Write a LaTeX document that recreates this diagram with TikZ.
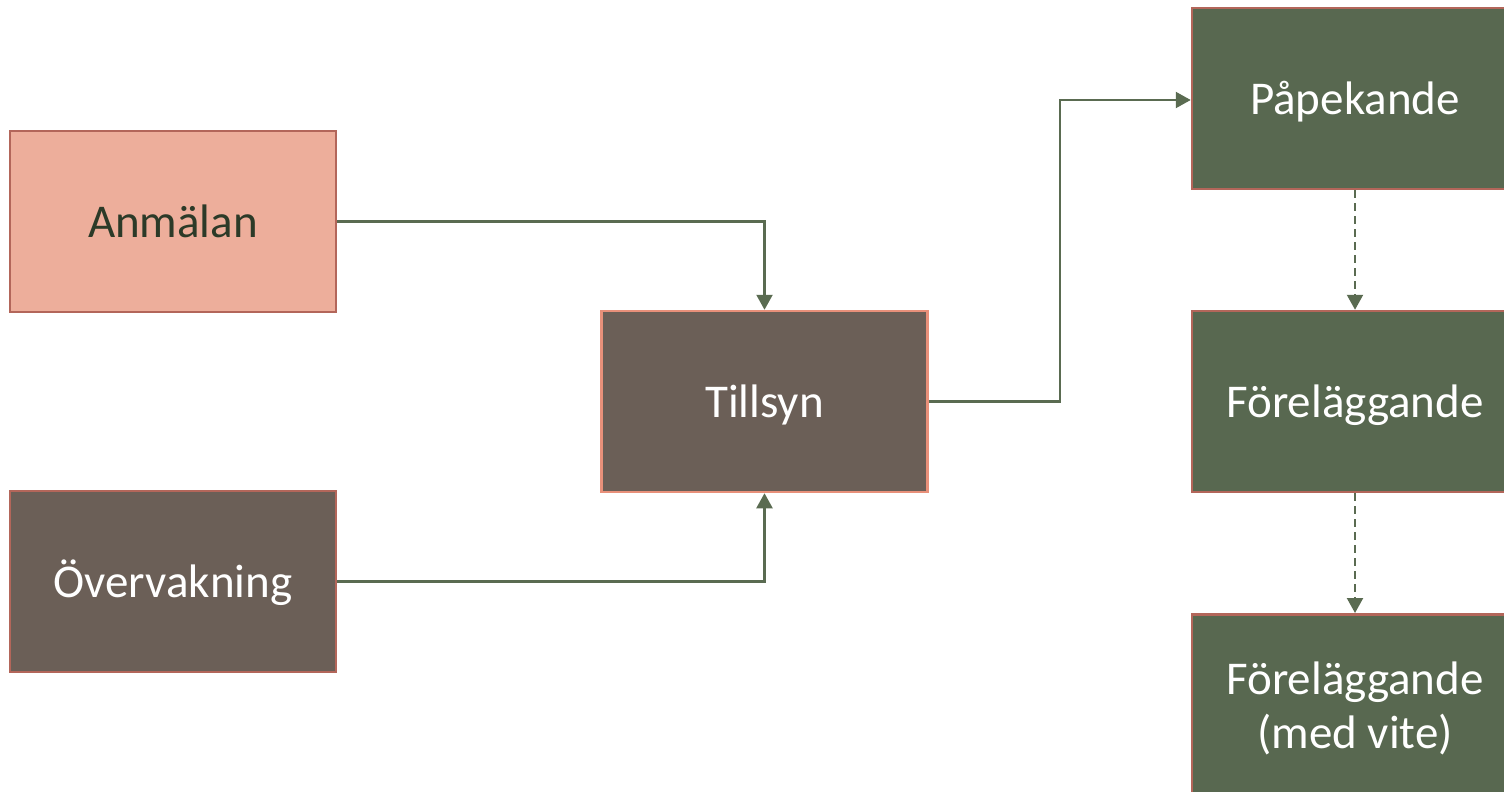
\documentclass[tikz,border=0pt]{standalone}
\usepackage{fontspec}
\setmainfont{Carlito}
\usetikzlibrary{arrows.meta}
\definecolor{pinkfill}{HTML}{EDAE9B}
\definecolor{pinkborder}{HTML}{B3665A}
\definecolor{brownfill}{HTML}{6B5F57}
\definecolor{greenfill}{HTML}{586850}
\definecolor{linecol}{HTML}{5A6B51}
\definecolor{darktext}{HTML}{2C3A28}
\definecolor{salmon}{HTML}{E8907A}
\tikzset{
  boxfont/.style={font=\fontsize{47}{54}\selectfont},
  box/.style={draw=pinkborder, line width=2.5pt, minimum width=326pt, minimum height=181pt, inner sep=0pt, boxfont, align=center, text=white, text height=38pt, text depth=6pt},
  conn/.style={draw=linecol, line width=2.2pt, -{Triangle[length=15pt,width=16pt]}},
  dconn/.style={conn, dash pattern=on 8pt off 5pt},
}
\begin{document}
\begin{tikzpicture}[x=1pt,y=-1pt]
\useasboundingbox (0,0) rectangle (1504,792);
\begin{scope}
\clip (0,0) rectangle (1504,792);
\node[box, fill=pinkfill, text=darktext] (anm) at (173,221.5) {Anmälan};
\node[box, fill=brownfill] (ovv) at (173,581.5) {Övervakning};
\node[box, fill=brownfill, draw=salmon] (till) at (764.5,401.5) {Tillsyn};
\node[box, fill=greenfill] (pap) at (1355,98.5) {Påpekande};
\node[box, fill=greenfill] (for1) at (1355,401.5) {Föreläggande};
\node[box, fill=greenfill, anchor=north, text height=0pt, text depth=0pt] (for2) at (1355,613) {};
\node[boxfont, text=white, align=center, inner sep=0pt] (for2t) at (1355,708) {Föreläggande\\(med vite)};
\end{scope}
\draw[conn] (anm.east) -| (till.north);
\draw[conn] (ovv.east) -| (till.south);
\coordinate (bend) at (1060,100);
\draw[conn] (till.east) -| (bend) -- (pap.west |- bend);
\draw[dconn] (pap.south) -- (for1.north);
\draw[dconn] (for1.south) -- (for2.north);
\end{tikzpicture}
\end{document}
